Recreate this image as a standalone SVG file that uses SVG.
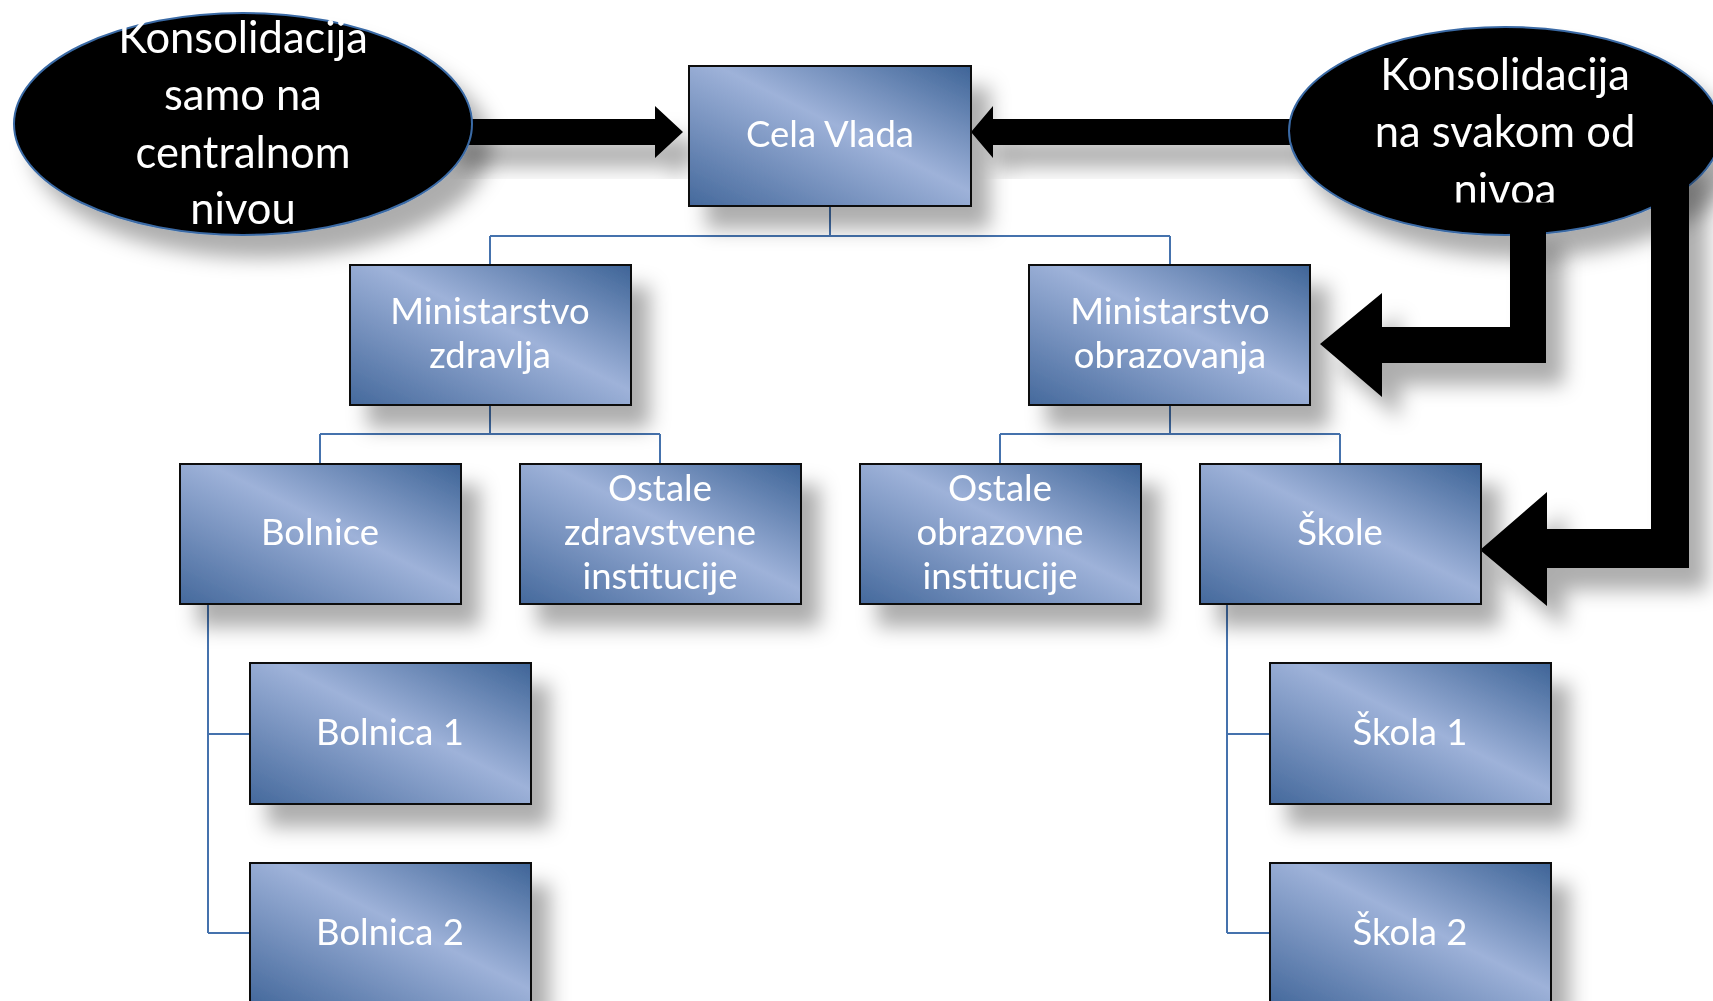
<svg xmlns="http://www.w3.org/2000/svg" width="1713" height="1001" viewBox="0 0 1713 1001">
<defs>
<linearGradient id="boxGrad" x1="0" y1="1" x2="1" y2="0">
<stop offset="0" stop-color="#45699c"/>
<stop offset="0.55" stop-color="#9eb2d9"/>
<stop offset="1" stop-color="#3e6497"/>
</linearGradient>
<filter id="shadow" x="-20%" y="-20%" width="150%" height="160%">
<feDropShadow dx="18" dy="22" stdDeviation="10" flood-color="#000" flood-opacity="0.32"/>
</filter>
<clipPath id="clipRight"><rect x="1280" y="20" width="440" height="182.5"/></clipPath>
</defs>
<style>
.box rect{fill:url(#boxGrad);stroke:#111;stroke-width:2}
.box text,.oval text{fill:#fff;font-family:Lato,"Open Sans",sans-serif;text-anchor:middle}
.box text{font-size:36.5px}
.oval text{font-size:43.5px}
.oval ellipse{fill:#000;stroke:#3a6aa5;stroke-width:2}
.conn path{fill:none;stroke:#4572ad;stroke-width:2}
.arrow{fill:#000}
</style>

<g id="connectors" class="conn">
<path d="M830 206V236M490 236H1170M490 236V265M1170 236V265"/>
<path d="M490 405V434M320 434H660M320 434V464M660 434V464"/>
<path d="M1170 405V434M1000 434H1340M1000 434V464M1340 434V464"/>
<path d="M208 604V933M208 734H250M208 933H250"/>
<path d="M1227 604V933M1227 734H1270M1227 933H1270"/>
</g>

<g id="arrows" filter="url(#shadow)">
<polygon id="arrow-left" class="arrow" points="440,119 655,119 655,106 683,132 655,158 655,145 440,145"/>
<polygon id="arrow-right" class="arrow" points="1330,119 993,119 993,106 971,132 993,158 993,145 1330,145"/>
</g>

<g id="oval-left" class="oval" filter="url(#shadow)">
<ellipse cx="243" cy="124" rx="229" ry="111"/>
<text x="243" y="53">Konsolidacija</text>
<text x="243" y="110">samo na</text>
<text x="243" y="168">centralnom</text>
<text x="243" y="224">nivou</text>
</g>

<g id="oval-right" class="oval" filter="url(#shadow)">
<ellipse cx="1505" cy="131" rx="216" ry="104"/>
<g clip-path="url(#clipRight)">
<text x="1505" y="90">Konsolidacija</text>
<text x="1505" y="147">na svakom od</text>
<text x="1505" y="205">nivoa</text>
</g>
</g>

<g id="bent-arrows" filter="url(#shadow)">
<polygon id="arrow-mo" class="arrow" points="1510,225 1546,225 1546,363 1382,363 1382,397 1320,344 1382,293 1382,327 1510,327"/>
<polygon id="arrow-skole" class="arrow" points="1651,150 1689,150 1689,568 1547,568 1547,606 1480,550 1547,492 1547,529 1651,529"/>
</g>

<g id="cela-vlada" class="box" filter="url(#shadow)">
<rect x="689" y="66" width="282" height="140"/>
<text x="830" y="147">Cela Vlada</text>
</g>
<g id="ministarstvo-zdravlja" class="box" filter="url(#shadow)">
<rect x="350" y="265" width="281" height="140"/>
<text x="490" y="324">Ministarstvo</text>
<text x="490" y="368">zdravlja</text>
</g>
<g id="ministarstvo-obrazovanja" class="box" filter="url(#shadow)">
<rect x="1029" y="265" width="281" height="140"/>
<text x="1170" y="324">Ministarstvo</text>
<text x="1170" y="368">obrazovanja</text>
</g>
<g id="bolnice" class="box" filter="url(#shadow)">
<rect x="180" y="464" width="281" height="140"/>
<text x="320" y="545">Bolnice</text>
</g>
<g id="ostale-zdravstvene" class="box" filter="url(#shadow)">
<rect x="520" y="464" width="281" height="140"/>
<text x="660" y="501">Ostale</text>
<text x="660" y="545">zdravstvene</text>
<text x="660" y="589">institucije</text>
</g>
<g id="ostale-obrazovne" class="box" filter="url(#shadow)">
<rect x="860" y="464" width="281" height="140"/>
<text x="1000" y="501">Ostale</text>
<text x="1000" y="545">obrazovne</text>
<text x="1000" y="589">institucije</text>
</g>
<g id="skole" class="box" filter="url(#shadow)">
<rect x="1200" y="464" width="281" height="140"/>
<text x="1340" y="545">Škole</text>
</g>
<g id="bolnica-1" class="box" filter="url(#shadow)">
<rect x="250" y="663" width="281" height="141"/>
<text x="390" y="745">Bolnica 1</text>
</g>
<g id="bolnica-2" class="box" filter="url(#shadow)">
<rect x="250" y="863" width="281" height="141"/>
<text x="390" y="945">Bolnica 2</text>
</g>
<g id="skola-1" class="box" filter="url(#shadow)">
<rect x="1270" y="663" width="281" height="141"/>
<text x="1410" y="745">Škola 1</text>
</g>
<g id="skola-2" class="box" filter="url(#shadow)">
<rect x="1270" y="863" width="281" height="141"/>
<text x="1410" y="945">Škola 2</text>
</g>
</svg>
